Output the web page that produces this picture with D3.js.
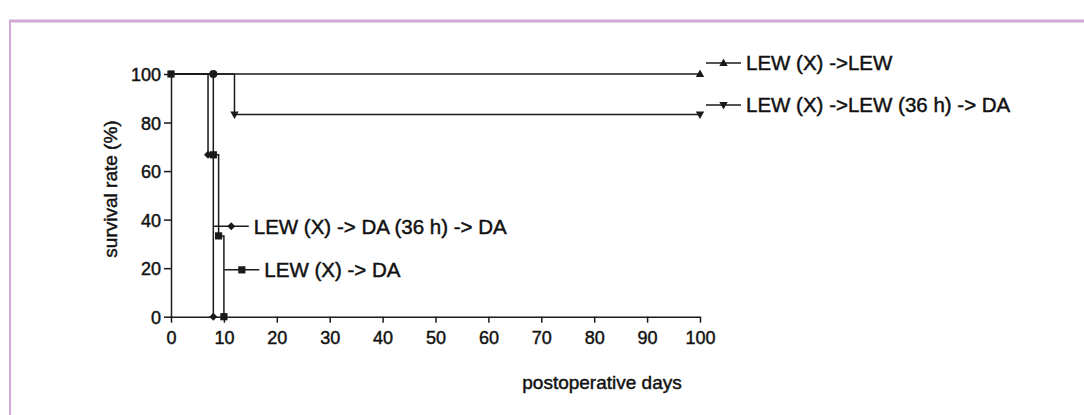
<!DOCTYPE html>
<html>
<head>
<meta charset="utf-8">
<script src="https://cdn.jsdelivr.net/npm/d3@7"></script>
<style>
  html, body { margin: 0; padding: 0; background: #fff; }
  svg { display: block; }
  text { font-family: "Liberation Sans", Arial, sans-serif; fill: #111; }
</style>
</head>
<body>
<svg id="chart" width="1084" height="415"></svg>
<script>
// ---- data ----
const xTicks = [0, 10, 20, 30, 40, 50, 60, 70, 80, 90, 100];
const yTicks = [0, 20, 40, 60, 80, 100];
const xLabel = "postoperative days";
const yLabel = "survival rate (%)";

const seriesNames = [
  "LEW (X) ->LEW",
  "LEW (X) ->LEW (36 h) -> DA",
  "LEW (X) -> DA (36 h) -> DA",
  "LEW (X) -> DA"
];
const seriesSymbols = ["triUp", "triDown", "diamond", "square"];
// Kaplan-Meier steps: [day, survival %]
const lewLewSteps = [[0, 100], [100, 100]];
const lewLewDaSteps = [[0, 100], [12, 83.3], [100, 83.3]];
const lewDaDaSteps = [[0, 100], [7, 66.7], [8, 0]];
const lewDaSteps = [[0, 100], [8, 66.7], [9, 33.3], [10, 0]];
// symbol positions
const lewLewMarks = [[100, 100]];
const lewLewDaMarks = [[12, 83.3], [100, 83.3]];
const lewDaDaMarks = [[7, 66.7], [8, 0]];
const lewDaMarks = [[0, 100], [8, 66.7], [9, 33.3], [10, 0]];
const overlapMarks = [[8, 100]]; // overlapping symbols drawn as a dot
// legend anchor (day, survival) for each series
const legendAnchors = [[100, 104.5], [100, 87.2], [7.8, 37.3], [9.8, 19.3]];

const steps = [lewLewSteps, lewLewDaSteps, lewDaDaSteps, lewDaSteps];
const marks = [lewLewMarks, lewLewDaMarks, lewDaDaMarks, lewDaMarks];

// ---- layout ----
const svg = d3.select("#chart");
const x = d3.scaleLinear().domain([0, 100]).range([171, 700]);
const y = d3.scaleLinear().domain([0, 100]).range([316.7, 74]);
const ink = "#1a1a1a";
const FONT = '"Liberation Sans", Arial, sans-serif';

// frame (top + left)
svg.append("line").attr("x1", 9).attr("x2", 1084).attr("y1", 21).attr("y2", 21)
  .attr("stroke", "#d2a9d5").attr("stroke-width", 3);
svg.append("line").attr("x1", 10).attr("x2", 10).attr("y1", 20).attr("y2", 415)
  .attr("stroke", "#d2a9d5").attr("stroke-width", 2);

function heavy(sel, size) {
  sel.style("font-family", FONT).style("font-size", size + "px")
    .attr("fill", "#111").attr("stroke", "#111").attr("stroke-width", 0.45);
}

// axes
const gx = svg.append("g").attr("transform", `translate(0,${y(0)})`)
  .call(d3.axisBottom(x).tickValues(xTicks).tickSize(6).tickSizeOuter(0).tickPadding(9));
const gy = svg.append("g").attr("transform", `translate(${x(0)},0)`)
  .call(d3.axisLeft(y).tickValues(yTicks).tickSize(7).tickSizeOuter(0).tickPadding(3));
[gx, gy].forEach(g => {
  g.attr("font-size", null).attr("font-family", null);
  g.selectAll("path.domain").attr("stroke", ink).attr("stroke-width", 1.5);
  g.selectAll(".tick line").attr("stroke", ink).attr("stroke-width", 1.5);
  heavy(g.selectAll(".tick text"), 18);
});
gy.selectAll(".tick text").attr("dy", "0.36em");

heavy(svg.append("text").attr("x", 602).attr("y", 389).attr("text-anchor", "middle").text(xLabel), 19);
heavy(svg.append("text").attr("transform", `translate(117,189) rotate(-90)`)
  .attr("text-anchor", "middle").text(yLabel), 19);

// symbol drawing
function drawSymbol(g, type, cx, cy) {
  let path;
  if (type === "square") {
    g.append("rect").attr("x", cx - 3.6).attr("y", cy - 3.6).attr("width", 7.2).attr("height", 7.2).attr("fill", ink);
    return;
  }
  if (type === "circle") {
    g.append("circle").attr("cx", cx).attr("cy", cy).attr("r", 4).attr("fill", ink);
    return;
  }
  if (type === "triUp") path = `M${cx},${cy - 4.5}L${cx + 4.2},${cy + 3}L${cx - 4.2},${cy + 3}Z`;
  if (type === "triDown") path = `M${cx},${cy + 4.5}L${cx + 4.2},${cy - 3}L${cx - 4.2},${cy - 3}Z`;
  if (type === "diamond") path = `M${cx},${cy - 4}L${cx + 4},${cy}L${cx},${cy + 4}L${cx - 4},${cy}Z`;
  g.append("path").attr("d", path).attr("fill", ink);
}

const line = d3.line().x(d => x(d[0])).y(d => y(d[1])).curve(d3.curveStepAfter);
const plot = svg.append("g");
steps.forEach((s, i) => {
  plot.append("path").attr("d", line(s)).attr("fill", "none")
    .attr("stroke", ink).attr("stroke-width", 1.5);
});
marks.forEach((m, i) => {
  m.forEach(p => drawSymbol(plot, seriesSymbols[i], x(p[0]), y(p[1])));
});
overlapMarks.forEach(p => drawSymbol(plot, "circle", x(p[0]), y(p[1])));

// legends
const legendLen = 35;
legendAnchors.forEach((a, i) => {
  const lx = x(a[0]) + (i < 2 ? 6 : 1.5), ly = y(a[1]);
  plot.append("line").attr("x1", lx).attr("x2", lx + legendLen).attr("y1", ly).attr("y2", ly)
    .attr("stroke", ink).attr("stroke-width", 1.5);
  drawSymbol(plot, seriesSymbols[i], lx + legendLen / 2, ly);
  heavy(svg.append("text").attr("x", lx + legendLen + 5).attr("y", ly).attr("dy", "0.36em")
    .text(seriesNames[i]), 20.5);
});
</script>
</body>
</html>
